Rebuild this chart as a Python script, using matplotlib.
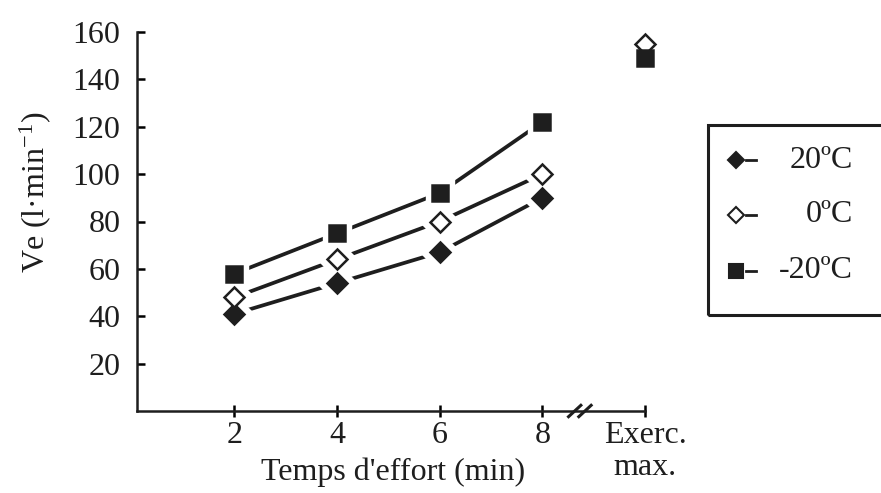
import matplotlib
matplotlib.use("Agg")
import matplotlib.pyplot as plt
import numpy as np
from matplotlib.patches import Rectangle
from matplotlib.lines import Line2D

plt.rcParams['font.family'] = ['Liberation Serif', 'DejaVu Serif']
plt.rcParams['mathtext.fontset'] = 'custom'
plt.rcParams['mathtext.rm'] = 'Liberation Serif'
plt.rcParams['mathtext.it'] = 'Liberation Serif'

# donnees
temps = [2, 4, 6, 8]
x_max = 10
ve_20 = [41, 54, 67, 90]
ve_0 = [48, 64, 80, 100]
ve_m20 = [58, 75, 92, 122]
max_0 = 155
max_m20 = 149
xtick_pos = [2, 4, 6, 8, 10]
xtick_labels = ['2', '4', '6', '8', 'Exerc.\nmax.']
yticks = [20, 40, 60, 80, 100, 120, 140, 160]
legend_labels = ['20ºC', '0ºC', '-20ºC']

W, H = 881, 493
fig = plt.figure(figsize=(W / 100, H / 100), dpi=100)
ax = fig.add_axes([137 / W, 1 - 411 / H, (645 - 137) / W, (411 - 32) / H])
ax.set_xlim(0.1, 10)
ax.set_ylim(0, 160)

fs = 23
ms = 11
ink = '#1e1e1e'

series = [
    (ve_20, 'D', ink, None),
    (ve_0, 'D', 'white', max_0),
    (ve_m20, 's', ink, max_m20),
]

for vals, mk, fc, vmax in series:
    ax.plot(temps, vals, color=ink, lw=2.7, zorder=2, solid_capstyle='butt')
    ax.plot(temps, vals, ls='none', marker=mk, ms=ms + 9, mfc='white', mec='white', zorder=3)
    ax.plot(temps, vals, ls='none', marker=mk, ms=ms if mk == 's' else ms - 1,
            mfc=fc, mec=ink, mew=1.8, zorder=4)
    if vmax is not None:
        ax.plot([x_max], [vmax], ls='none', marker=mk, ms=ms if mk == 's' else ms - 1,
                mfc=fc, mec=ink, mew=1.8, zorder=4, clip_on=False)

# axes
for s in ['top', 'right']:
    ax.spines[s].set_visible(False)
for s in ['left', 'bottom']:
    ax.spines[s].set_linewidth(1.8)
    ax.spines[s].set_color(ink)

ax.set_yticks(yticks)
ax.set_yticklabels([str(v) for v in yticks], fontsize=fs, color=ink)
ax.tick_params(axis='y', direction='in', length=6, width=1.8, pad=12)
ax.set_xticks(xtick_pos)
ax.set_xticklabels(xtick_labels, fontsize=fs, color=ink, linespacing=1.1)
ax.tick_params(axis='x', direction='inout', length=9, width=1.8, pad=3)

ax.set_xlabel("Temps d'effort (min)", fontsize=fs, color=ink)
ax.xaxis.label.set_va('baseline')
ax.xaxis.set_label_coords(0.504, -0.182)
ax.set_ylabel(r"Ve (l·min$^{-1}$)", fontsize=fs, color=ink)
ax.yaxis.label.set_va('center')
ax.yaxis.set_label_coords(-0.2, 0.578)

# coupure de l'axe
for dx in [-0.12, 0.08]:
    xb = 8.75 + dx
    ax.plot([xb - 0.12, xb + 0.12], [-2.4, 2.4], color=ink, lw=2.2,
            clip_on=False, zorder=5)

# legende
fig.add_artist(Rectangle((708 / W, 1 - 315 / H), 200 / W, 190 / H,
                         transform=fig.transFigure, fill=False,
                         edgecolor=ink, lw=2.2))
leg_y = [160, 215, 271]
leg_mk = [('D', ink), ('D', 'white'), ('s', ink)]
for (mk, fc), lab, py in zip(leg_mk, legend_labels, leg_y):
    yy = 1 - py / H
    fig.add_artist(Line2D([736 / W], [yy], marker=mk, ms=8.5 if mk == 'D' else 10,
                          mfc=fc, mec=ink, mew=1.5, ls='none',
                          transform=fig.transFigure))
    fig.add_artist(Line2D([746 / W, 756 / W], [yy, yy], color=ink, lw=2,
                          transform=fig.transFigure))
    fig.text(853 / W, yy, lab, fontsize=fs, ha='right', va='center', color=ink)

fig.savefig('out.png', dpi=100)
